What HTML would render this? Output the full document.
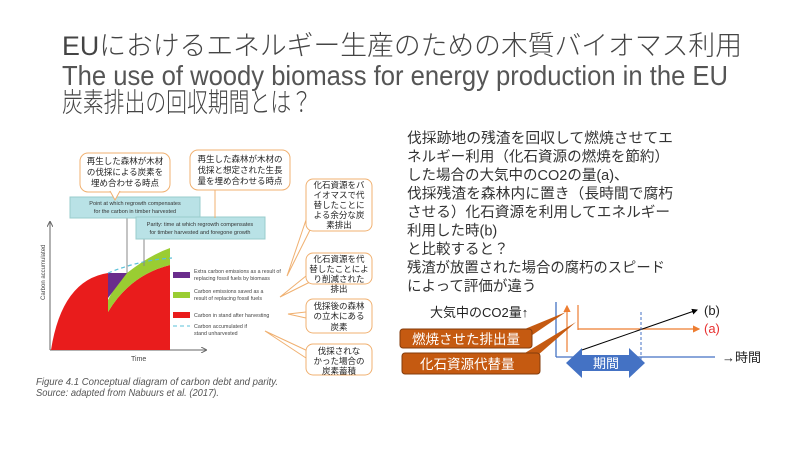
<!DOCTYPE html>
<html><head><meta charset="utf-8"><style>
html,body{margin:0;padding:0;background:#fff;}
svg{display:block;}
.jp{font-family:"Liberation Sans","Noto Sans CJK JP",sans-serif;}
</style></head><body>
<svg width="800" height="450" viewBox="0 0 800 450" xmlns="http://www.w3.org/2000/svg" class="jp">
<defs>
<marker id="ab" markerWidth="6" markerHeight="6" refX="5" refY="3" orient="auto"><path d="M0,0 L6,3 L0,6 z" fill="#000"/></marker>
<marker id="ao" markerWidth="6" markerHeight="6" refX="5" refY="3" orient="auto"><path d="M0,0 L6,3 L0,6 z" fill="#ED7D31"/></marker>
<marker id="ag" markerWidth="6" markerHeight="6" refX="5" refY="3" orient="auto"><path d="M0,0 L6,3 L0,6" fill="none" stroke="#666"/></marker>
</defs>
<!-- Title -->
<g fill="#444" font-size="27" font-weight="300">
<text x="62" y="55" textLength="680" lengthAdjust="spacingAndGlyphs">EUにおけるエネルギー生産のための木質バイオマス利用</text>
<text x="62" y="85" font-size="28" textLength="666" lengthAdjust="spacingAndGlyphs" fill="#555">The use of woody biomass for energy production in the EU</text>
<text x="62" y="112" textLength="250" lengthAdjust="spacingAndGlyphs">炭素排出の回収期間とは？</text>
</g>

<!-- Chart -->
<line x1="50" y1="350" x2="50" y2="222" stroke="#666" stroke-width="1" marker-end="url(#ag)"/>
<line x1="50" y1="350" x2="206" y2="350" stroke="#666" stroke-width="1" marker-end="url(#ag)"/>
<text transform="translate(45,300) rotate(-90)" font-size="6" fill="#444">Carbon accumulated</text>
<text x="131" y="361" font-size="7" fill="#444">Time</text>
<path d="M51,350 Q62,280 108,273 L108,312 Q130,275 170,265 L170,350 Z" fill="#E91C1C"/>
<path d="M108,300 Q118,280 127,273 Q150,255 170,248 L170,265 Q130,275 108,312 Z" fill="#9ACD32"/>
<path d="M108,273 L127,273 L108,298 Z" fill="#6A2C8C"/>
<path d="M108,273 Q140,260 172,258" fill="none" stroke="#5BC0D8" stroke-width="1.2" stroke-dasharray="4,3"/>
<line x1="127" y1="218" x2="127" y2="273" stroke="#888"/>
<line x1="144" y1="239" x2="144" y2="266" stroke="#888"/>
<!-- blue boxes -->
<rect x="70" y="197" width="130" height="21" fill="#B9E2E6" stroke="#9cc"/>
<text x="135" y="205" font-size="5.5" fill="#333" text-anchor="middle">Point at which regrowth compensates</text>
<text x="135" y="213" font-size="5.5" fill="#333" text-anchor="middle">for the carbon in timber harvested</text>
<rect x="136" y="217" width="129" height="22" fill="#B9E2E6" stroke="#9cc"/>
<text x="200" y="226" font-size="5.5" fill="#333" text-anchor="middle">Parity: time at which regrowth compensates</text>
<text x="200" y="234" font-size="5.5" fill="#333" text-anchor="middle">for timber harvested and foregone growth</text>
<!-- callouts top -->
<rect x="80" y="153" width="90" height="39" rx="8" fill="#fff" stroke="#F0B070"/>
<path d="M110,191 L115,200 L120,191" fill="#fff" stroke="#F0B070"/>
<g font-size="8.5" fill="#222" text-anchor="middle">
<text x="125" y="164">再生した森林が木材</text><text x="125" y="175">の伐採による炭素を</text><text x="125" y="186">埋め合わせる時点</text>
</g>
<rect x="190" y="150" width="100" height="40" rx="8" fill="#fff" stroke="#F0B070"/>
<line x1="215" y1="190" x2="215" y2="218" stroke="#F0B070"/>
<g font-size="8.5" fill="#222" text-anchor="middle">
<text x="240" y="162">再生した森林が木材の</text><text x="240" y="173">伐採と想定された生長</text><text x="240" y="184">量を埋め合わせる時点</text>
</g>
<!-- legend -->
<rect x="173" y="272" width="17" height="6" fill="#6A2C8C"/>
<rect x="173" y="292" width="17" height="6" fill="#9ACD32"/>
<rect x="173" y="312" width="17" height="6" fill="#E91C1C"/>
<line x1="173" y1="326" x2="190" y2="326" stroke="#5BC0D8" stroke-dasharray="4,3"/>
<g font-size="5.3" fill="#444">
<text x="194" y="273">Extra carbon emissions as a result of</text><text x="194" y="280">replacing fossil fuels by biomass</text>
<text x="194" y="293">Carbon emissions saved as a</text><text x="194" y="300">result of replacing fossil fuels</text>
<text x="194" y="317">Carbon in stand after harvesting</text>
<text x="194" y="328">Carbon accumulated if</text><text x="194" y="335">stand unharvested</text>
</g>
<!-- right callouts -->
<g stroke="#F0B070" fill="none">
<path d="M306,220 L287,276 L312,226"/>
<path d="M306,276 L280,297 L310,282"/>
<path d="M306,312 L288,314 L306,318"/>
<path d="M306,358 L265,331 L310,352"/>
</g>
<g fill="#fff" stroke="#F0B070">
<rect x="306" y="179" width="66" height="52" rx="7"/>
<rect x="306" y="253" width="66" height="31" rx="7"/>
<rect x="306" y="299" width="66" height="34" rx="7"/>
<rect x="306" y="344" width="66" height="31" rx="7"/>
</g>
<g font-size="8.5" fill="#222" text-anchor="middle">
<text x="339" y="188">化石資源をバ</text><text x="339" y="198">イオマスで代</text><text x="339" y="208">替したことに</text><text x="339" y="218">よる余分な炭</text><text x="339" y="228">素排出</text>
<text x="339" y="262">化石資源を代</text><text x="339" y="272">替したことによ</text><text x="339" y="282">り削減された</text><text x="339" y="292">排出</text>
<text x="339" y="309">伐採後の森林</text><text x="339" y="319">の立木にある</text><text x="339" y="330">炭素</text>
<text x="339" y="354">伐採されな</text><text x="339" y="364">かった場合の</text><text x="339" y="374">炭素蓄積</text>
</g>
<!-- caption -->
<g font-size="10" font-style="italic" fill="#555">
<text x="36" y="385" textLength="242" lengthAdjust="spacingAndGlyphs">Figure 4.1  Conceptual diagram of carbon debt and parity.</text>
<text x="36" y="396" textLength="183" lengthAdjust="spacingAndGlyphs">Source: adapted from Nabuurs et al. (2017).</text>
</g>

<!-- right text -->
<g font-size="14.5" fill="#333">
<text x="407" y="143" textLength="266" lengthAdjust="spacingAndGlyphs">伐採跡地の残渣を回収して燃焼させてエ</text>
<text x="407" y="161.5" textLength="262" lengthAdjust="spacingAndGlyphs">ネルギー利用（化石資源の燃焼を節約）</text>
<text x="407" y="180">した場合の大気中のCO2の量(a)、</text>
<text x="407" y="198.5" textLength="266" lengthAdjust="spacingAndGlyphs">伐採残渣を森林内に置き（長時間で腐朽</text>
<text x="407" y="217" textLength="263" lengthAdjust="spacingAndGlyphs">させる）化石資源を利用してエネルギー</text>
<text x="407" y="235.5">利用した時(b)</text>
<text x="407" y="254">と比較すると？</text>
<text x="407" y="272.5" textLength="258" lengthAdjust="spacingAndGlyphs">残渣が放置された場合の腐朽のスピード</text>
<text x="407" y="291">によって評価が違う</text>
</g>

<!-- bottom right diagram -->
<line x1="556" y1="302" x2="556" y2="357" stroke="#4472C4" stroke-width="1.3"/>
<line x1="556" y1="357" x2="715" y2="357" stroke="#4472C4" stroke-width="1.3"/>
<text x="722" y="362" font-size="13" fill="#222">→時間</text>
<line x1="567" y1="352" x2="567" y2="306" stroke="#ED7D31" stroke-width="1.2" marker-end="url(#ao)"/>
<line x1="578" y1="305" x2="578" y2="330" stroke="#ED7D31" stroke-width="1.2"/>
<line x1="578" y1="329" x2="699" y2="329" stroke="#ED7D31" stroke-width="1.2" marker-end="url(#ao)"/>
<line x1="582" y1="350" x2="697" y2="310" stroke="#000" stroke-width="1" marker-end="url(#ab)"/>
<line x1="641" y1="312" x2="641" y2="366" stroke="#4472C4" stroke-dasharray="3,2"/>
<text x="704" y="315" font-size="13" fill="#222">(b)</text>
<text x="704" y="333" font-size="13" fill="#E83030">(a)</text>
<text x="430" y="317" font-size="13" fill="#222">大気中のCO2量↑</text>
<path d="M566,363 L582,348 L582,355 L629,355 L629,348 L645,363 L629,378 L629,371 L582,371 L582,378 Z" fill="#4472C4"/>
<text x="606" y="368" font-size="13" fill="#fff" text-anchor="middle">期間</text>
<path d="M520,331 L566,312 L525,340 Z" fill="#C55A11"/>
<path d="M520,356 L576,322 L530,362 Z" fill="#C55A11"/>
<rect x="400" y="329" width="132" height="19" rx="3" fill="#C55A11" stroke="#843C0C"/>
<text x="412" y="344" font-size="13.5" fill="#fff">燃焼させた排出量</text>
<rect x="402" y="353" width="138" height="21" rx="3" fill="#C55A11" stroke="#843C0C"/>
<text x="420" y="369" font-size="13.5" fill="#fff">化石資源代替量</text>
</svg>
</body></html>
